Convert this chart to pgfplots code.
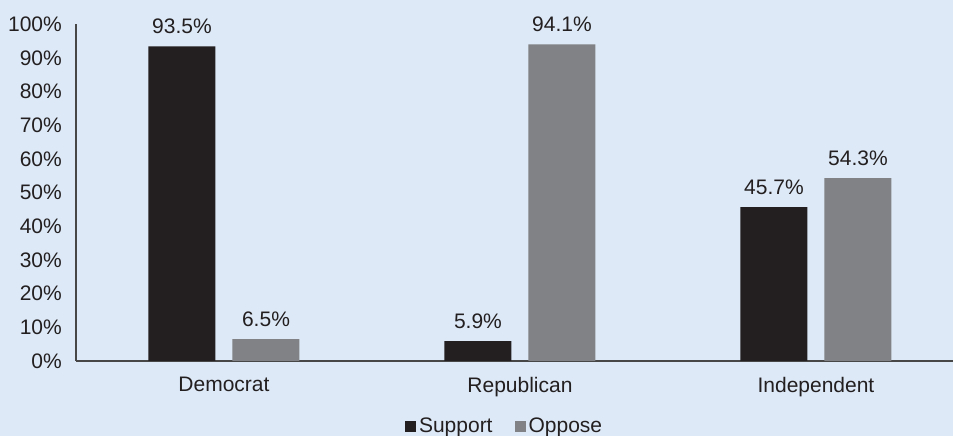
\documentclass[border=0pt]{standalone}
\usepackage{pgfplots}
\pgfplotsset{compat=1.18}
\usepackage{fontspec}
\setmainfont{Liberation Sans}
\definecolor{bg}{HTML}{DDE9F7}
\definecolor{sup}{HTML}{231F20}
\definecolor{opp}{HTML}{808285}
\definecolor{txt}{HTML}{231F20}
\newcommand\f{\fontsize{21}{24}\selectfont}
\begin{document}
\begin{tikzpicture}[x=1pt,y=1pt]
\useasboundingbox (0,0) rectangle (953,436);
\fill[bg] (0,0) rectangle (953,436);
\begin{axis}[
  at={(76pt,75pt)}, anchor=south west,
  scale only axis, width=877pt, height=336.6pt,
  xmin=-0.5, xmax=2.463, ymin=0, ymax=100,
  ybar=17pt, bar width=67pt,
  axis x line*=bottom, axis y line*=left,
  axis line style={-, line width=1.2pt, color=black!72},
  /pgf/number format/assume math mode=true,
  ytick={0,10,...,100},
  yticklabel={\pgfmathprintnumber{\tick}\%},
  xtick={0,1,2},
  xticklabels={Democrat,Republican,Independent},
  major tick length=0pt,
  tick style={draw=none},
  ticklabel style={font=\f, text=txt},
  yticklabel style={inner sep=0pt, anchor=east, xshift=-14pt},
  xticklabel style={inner sep=0pt, anchor=north, yshift=-16pt},
  nodes near coords={\pgfmathprintnumber[fixed,precision=1,fixed zerofill]{\pgfplotspointmeta}\%},
  every node near coord/.append style={font=\f, text=txt, inner sep=0pt, anchor=south, yshift=12pt},
  legend columns=2,
  legend style={at={(axis cs:0.611,-19.2)}, anchor=west, draw=none, fill=none, inner sep=0pt,
    font=\f, text=txt,
    nodes={inner sep=3pt},
    /tikz/every even column/.append style={column sep=19pt}},
  legend image code/.code={\fill[#1] (0pt,-6pt) rectangle (11pt,5pt);},
]
\addplot[fill=sup, draw=none] coordinates {(0,93.5) (1,5.9) (2,45.7)};
\addlegendentry{Support}
\addplot[fill=opp, draw=none] coordinates {(0,6.5) (1,94.1) (2,54.3)};
\addlegendentry{Oppose}
\end{axis}
\end{tikzpicture}
\end{document}
